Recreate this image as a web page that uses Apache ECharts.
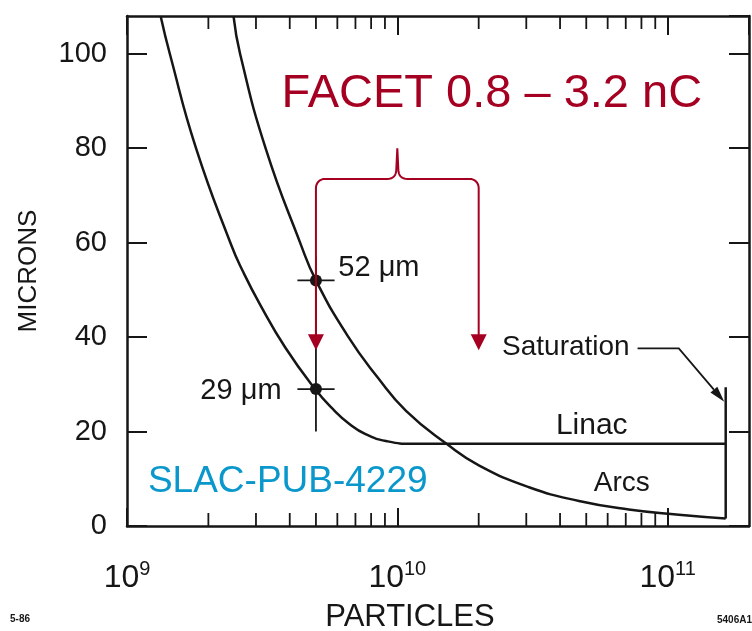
<!DOCTYPE html>
<html><head><meta charset="utf-8">
<script src="https://cdn.jsdelivr.net/npm/echarts@6/dist/echarts.min.js"></script>
<style>html,body{margin:0;padding:0;background:#fff}#c{width:752px;height:631px}</style>
</head><body><div id="c"></div>
<script>
// ---------- data ----------
const linacN = [1.334e9, 1.44e9, 1.80e9, 2.43e9, 2.68e9, 3.1e9, 3.85e9, 4.98e9, 5.77e9, 6.65e9, 7.66e9, 9.08e9, 1.14e10, 1.64e11];
const linacV = [107.8, 100, 80, 59.5, 54.0, 47.0, 37.8, 28.9, 24.8, 21.6, 19.4, 18.0, 17.4, 17.4];
const arcsN = [2.48e9, 2.62e9, 3.26e9, 4.39e9, 5.0e9, 6.56e9, 8.45e9, 1.077e10, 1.53e10, 2.01e10, 3.07e10, 4.70e10, 7.18e10, 1.10e11, 1.64e11];
const arcsV = [107.8, 100, 79.9, 59.7, 52, 40.2, 31.5, 24.4, 17.3, 12.8, 8.2, 5.3, 3.5, 2.4, 1.6];
const saturationN = 1.64e11;
const saturationV = [1.6, 29.4];
const xMajorTicks = [1e9, 1e10, 1e11];
const xMinorTicks = [2e9,3e9,4e9,5e9,6e9,7e9,8e9,9e9,2e10,3e10,4e10,5e10,6e10,7e10,8e10,9e10];
const yTickLabels = [0, 20, 40, 60, 80, 100];
const measuredN = 5e9;
const measuredV = [52, 29];
const errN = [4.27e9, 5.86e9];
const errV = [20, 57];
const facetN = [5e9, 2e10];
const facetBraceV = 73.5;
const facetPeakV = 80;
const facetTipV = 37.2;
const satPointerN = [7.74e10, 1.1e11, 1.62e11];
const satPointerV = [37.6, 37.6, 26.3];
// text annotations: [text, N, value]
const notes = [
  ['FACET 0.8 – 3.2 nC', 3.73e9, 91.4],
  ['SLAC-PUB-4229', 1.195e9, 9.3],
  ['Saturation', 2.44e10, 37.9],
  ['Linac', 3.86e10, 21.2],
  ['Arcs', 5.33e10, 9.1],
  ['52 μm', 6.05e9, 54.6],
  ['29 μm', 3.73e9, 28.6]
];
const xMin = 1e9, xMax = 2e11, yMin = 0, yMax = 108;

// ---------- styles ----------
const ink = '#161616';
const red = '#A50021';
const blue = '#0A98CC';
const FONT = '"Liberation Sans", Arial, sans-serif';
const noteStyle = [
  {fill: red, fontSize: 47, align: 'left'},
  {fill: blue, fontSize: 37, align: 'left'},
  {fill: ink, fontSize: 28, align: 'left'},
  {fill: ink, fontSize: 30, align: 'left'},
  {fill: ink, fontSize: 28, align: 'left'},
  {fill: ink, fontSize: 29, align: 'left'},
  {fill: ink, fontSize: 29, align: 'right'}
];

function zip(a, b) { return a.map((v, i) => [v, b[i]]); }
function sup(v) { return '{b|10}{s|' + Math.round(Math.log10(v)) + '}'; }

const chart = echarts.init(document.getElementById('c'));

function lineEl(x1, y1, x2, y2, stroke, w) {
  return {type: 'line', shape: {x1, y1, x2, y2}, style: {stroke, lineWidth: w}};
}
function quad(p0, p1, p2, n) {
  const out = [];
  for (let i = 0; i <= n; i++) {
    const t = i / n;
    out.push([(1-t)*(1-t)*p0[0] + 2*t*(1-t)*p1[0] + t*t*p2[0], (1-t)*(1-t)*p0[1] + 2*t*(1-t)*p1[1] + t*t*p2[1]]);
  }
  return out;
}

const option = {
  animation: false,
  backgroundColor: '#fff',
  grid: {left: 127, right: 3, top: 16, bottom: 105, containLabel: false, outerBoundsMode: 'none'},
  xAxis: [{
    type: 'log', logBase: 10, min: xMin, max: xMax, position: 'bottom',
    axisLine: {show: true, lineStyle: {color: ink, width: 2.5}},
    axisTick: {show: true, inside: true, length: 18, lineStyle: {color: ink, width: 2}},
    splitLine: {show: false},
    axisLabel: {
      showMaxLabel: false, margin: 33, color: ink,
      formatter: v => xMajorTicks.some(t => Math.abs(t - v) / t < 1e-6) ? sup(v) : '',
      rich: {
        b: {fontSize: 32, fontFamily: FONT, color: ink, lineHeight: 38},
        s: {fontSize: 20, fontFamily: FONT, color: ink, lineHeight: 20, verticalAlign: 'top'}
      }
    },
    name: 'PARTICLES', nameLocation: 'middle', nameGap: 76,
    nameTextStyle: {fontSize: 31, fontFamily: FONT, color: ink, padding: [0, 56, 0, 0]}
  }, {
    type: 'log', logBase: 10, min: xMin, max: xMax, position: 'top',
    axisLine: {show: true, onZero: false, lineStyle: {color: ink, width: 2.5}},
    axisTick: {show: true, inside: true, length: 19, lineStyle: {color: ink, width: 2}},
    splitLine: {show: false}, axisLabel: {show: false}
  }],
  yAxis: [{
    type: 'value', min: yMin, max: yMax, interval: 20, position: 'left',
    axisLine: {show: true, onZero: false, lineStyle: {color: ink, width: 2.5}},
    axisTick: {show: true, inside: true, length: 20, lineStyle: {color: ink, width: 2}},
    splitLine: {show: false},
    axisLabel: {
      showMaxLabel: false, margin: 20, fontSize: 29, fontFamily: FONT, color: ink,
      formatter: v => yTickLabels.includes(v) ? String(v) : ''
    },
    name: 'MICRONS', nameLocation: 'middle', nameGap: 85,
    nameTextStyle: {fontSize: 26, fontFamily: FONT, color: ink}
  }, {
    type: 'value', min: yMin, max: yMax, interval: 20, position: 'right',
    axisLine: {show: true, onZero: false, lineStyle: {color: ink, width: 2.5}},
    axisTick: {show: true, inside: true, length: 20, lineStyle: {color: ink, width: 2}},
    splitLine: {show: false}, axisLabel: {show: false}
  }],
  series: [
    {
      name: 'Linac', type: 'line', data: zip(linacN, linacV), showSymbol: false,
      smooth: 0.5, clip: true,
      lineStyle: {color: ink, width: 2.5}, z: 3
    },
    {
      name: 'Arcs', type: 'line', data: zip(arcsN, arcsV), showSymbol: false,
      smooth: 0.5, clip: true,
      lineStyle: {color: ink, width: 2.5}, z: 3
    },
    {
      name: 'Saturation', type: 'line', data: saturationV.map(v => [saturationN, v]), showSymbol: false,
      lineStyle: {color: ink, width: 2.5}, z: 3
    },
    {
      // minor log ticks on bottom and top axes
      type: 'custom', data: xMinorTicks.map(n => [n, 1]), silent: true, z: 4,
      renderItem: (params, api) => {
        const n = api.value(0);
        const b = api.coord([n, yMin]);
        const t = api.coord([n, yMax]);
        return {type: 'group', children: [
          lineEl(b[0], b[1], b[0], b[1] - 13, ink, 1.8),
          lineEl(t[0], t[1], t[0], t[1] + 13, ink, 1.8)
        ]};
      }
    },
    {
      // measured points with cross bars
      type: 'custom', data: measuredV.map(v => [measuredN, v]), silent: true, z: 5,
      renderItem: (params, api) => {
        const v = api.value(1);
        const p = api.coord([measuredN, v]);
        const l = api.coord([errN[0], v]);
        const r = api.coord([errN[1], v]);
        const children = [
          lineEl(l[0], p[1], r[0], p[1], ink, 1.8),
          {type: 'circle', shape: {cx: p[0], cy: p[1], r: 6}, style: {fill: ink}}
        ];
        if (params.dataIndex === 0) {
          const top = api.coord([measuredN, errV[1]]);
          const bot = api.coord([measuredN, errV[0]]);
          children.unshift(lineEl(top[0], top[1], bot[0], bot[1], ink, 1.8));
        }
        return {type: 'group', children};
      }
    },
    {
      // FACET brace and arrows
      type: 'custom', data: [[facetN[0], facetBraceV]], silent: true, z: 6,
      renderItem: (params, api) => {
        const L = api.coord([facetN[0], facetBraceV]);
        const R = api.coord([facetN[1], facetBraceV]);
        const C = api.coord([Math.sqrt(facetN[0] * facetN[1]), facetPeakV]);
        const tL = api.coord([facetN[0], facetTipV]);
        const tR = api.coord([facetN[1], facetTipV]);
        const yT = L[1], rr = 9, ah = 16, aw = 8;
        const pts = [[L[0], tL[1] - ah + 2]];
        for (let i = 0; i <= 8; i++) { const a = Math.PI - i * Math.PI / 16; pts.push([L[0] + rr + rr * Math.cos(a), yT + rr - rr * Math.sin(a)]); }
        quad([C[0] - 10, yT], [C[0] - 1, yT], [C[0] - 1, yT - 10], 8).forEach(p => pts.push(p));
        pts.push([C[0], C[1]]);
        quad([C[0] + 1, yT - 10], [C[0] + 1, yT], [C[0] + 10, yT], 8).forEach(p => pts.push(p));
        for (let i = 0; i <= 8; i++) { const a = Math.PI / 2 - i * Math.PI / 16; pts.push([R[0] - rr + rr * Math.cos(a), yT + rr - rr * Math.sin(a)]); }
        pts.push([R[0], tR[1] - ah + 2]);
        return {type: 'group', children: [
          {type: 'polyline', shape: {points: pts}, style: {stroke: red, lineWidth: 2, fill: null}},
          {type: 'polygon', shape: {points: [[tL[0] - aw, tL[1] - ah], [tL[0] + aw, tL[1] - ah], [tL[0], tL[1]]]}, style: {fill: red}},
          {type: 'polygon', shape: {points: [[tR[0] - aw, tR[1] - ah], [tR[0] + aw, tR[1] - ah], [tR[0], tR[1]]]}, style: {fill: red}}
        ]};
      }
    },
    {
      // saturation pointer
      type: 'custom', data: [[satPointerN[0], satPointerV[0]]], silent: true, z: 5,
      renderItem: (params, api) => {
        const P = satPointerN.map((n, i) => api.coord([n, satPointerV[i]]));
        const tip = P[2], prev = P[1];
        const dx = tip[0] - prev[0], dy = tip[1] - prev[1], d = Math.hypot(dx, dy);
        const ux = dx / d, uy = dy / d, len = 16, w = 4.5;
        const base = [tip[0] - ux * len, tip[1] - uy * len];
        return {type: 'group', children: [
          {type: 'polyline', shape: {points: [P[0], P[1], base]}, style: {stroke: ink, lineWidth: 1.8, fill: null}},
          {type: 'polygon', shape: {points: [tip, [base[0] - uy * w, base[1] + ux * w], [base[0] + uy * w, base[1] - ux * w]]}, style: {fill: ink}}
        ]};
      }
    },
    {
      // text annotations
      type: 'custom', data: notes.map(n => [n[1], n[2]]), silent: true, z: 7,
      renderItem: (params, api) => {
        const n = notes[params.dataIndex];
        const s = noteStyle[params.dataIndex];
        const p = api.coord([n[1], n[2]]);
        return {type: 'text', x: p[0], y: p[1], style: {
          text: n[0], fill: s.fill, fontSize: s.fontSize, fontFamily: FONT,
          align: s.align, verticalAlign: 'middle'
        }};
      }
    }
  ],
  graphic: [
    {type: 'text', left: 10, top: 614, style: {text: '5-86', fontSize: 10, fontWeight: 'bold', fontFamily: FONT, fill: ink}},
    {type: 'text', right: 0, top: 615, style: {text: '5406A1', fontSize: 10, fontWeight: 'bold', fontFamily: FONT, fill: ink}}
  ]
};
chart.setOption(option);
</script>
</body></html>
